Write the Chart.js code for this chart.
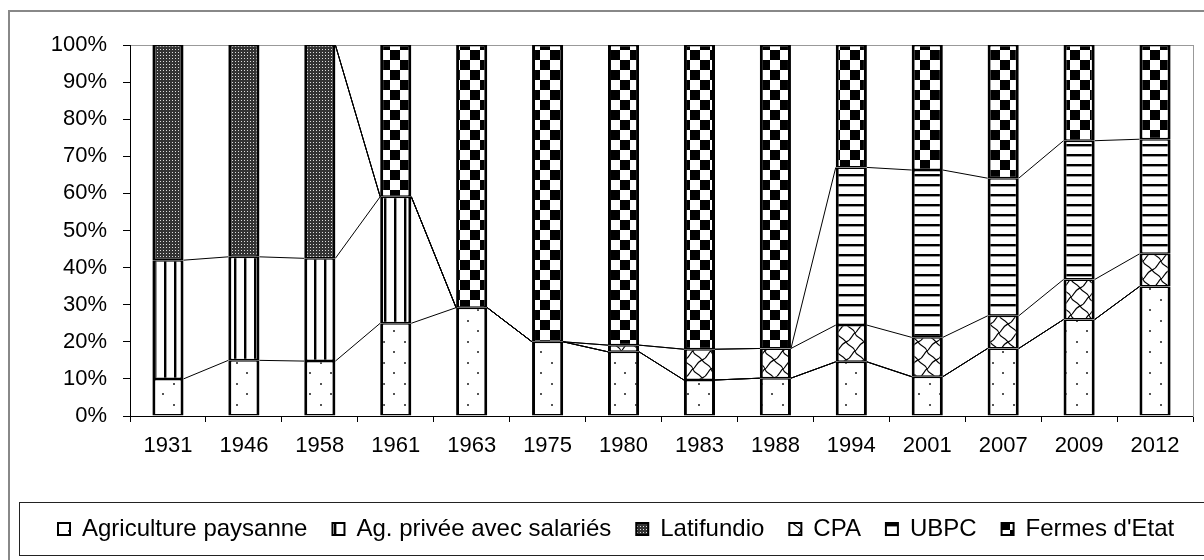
<!DOCTYPE html>
<html>
<head>
<meta charset="utf-8">
<script src="https://cdn.jsdelivr.net/npm/chart.js@4.4.1/dist/chart.umd.min.js"></script>
<style>
  html, body { margin: 0; padding: 0; background: #fff; }
  #wrap { width: 1204px; height: 560px; }
</style>
</head>
<body>
<div id="wrap"><canvas id="chart" width="1204" height="560"></canvas></div>
<script>
// data (percent of land, stacked bottom to top)
const years = ['1931', '1946', '1958', '1961', '1963', '1975', '1980', '1983', '1988', '1994', '2001', '2007', '2009', '2012'];
const paysanne   = [10, 15, 14.8, 25, 29.2, 20, 17.3, 9.7, 10.2, 14.6, 10.6, 18.2, 26, 34.9];
const privee     = [32, 27.9, 27.7, 34.1, 0, 0, 0, 0, 0, 0, 0, 0, 0, 0];
const latifundio = [58, 57.1, 57.5, 0, 0, 0, 0, 0, 0, 0, 0, 0, 0, 0];
const cpa        = [0, 0, 0, 0, 0, 0, 1.8, 8.3, 8, 9.9, 10.6, 8.8, 10.8, 8.8];
const ubpc       = [0, 0, 0, 0, 0, 0, 0, 0, 0, 42.5, 45.1, 37.1, 37.4, 30.9];
const fermes     = [0, 0, 0, 40.9, 70.8, 80, 80.9, 82, 81.8, 33, 33.7, 35.9, 25.8, 25.4];
const yTicks = [0, 10, 20, 30, 40, 50, 60, 70, 80, 90, 100];

const FONT = "'Liberation Sans', Arial, sans-serif";

// black & white fill patterns, like the old Excel ones
function makePattern(w, h, paint) {
  const c = document.createElement('canvas');
  c.width = w; c.height = h;
  const g = c.getContext('2d');
  g.fillStyle = '#fff';
  g.fillRect(0, 0, w, h);
  paint(g);
  return document.getElementById('chart').getContext('2d').createPattern(c, 'repeat');
}

const dotsFill = makePattern(21, 21, g => {
  g.fillStyle = '#555';
  g.fillRect(5, 5, 2, 2);
  g.fillRect(15, 15, 2, 2);
});
const vlinesFill = makePattern(10, 10, g => {
  g.fillStyle = '#000';
  g.fillRect(4, 0, 2, 10);
  g.fillStyle = '#999';
  g.fillRect(6, 0, 1, 10);
});
const darkFill = makePattern(3, 3, g => {
  g.fillStyle = '#333';
  g.fillRect(0, 0, 3, 3);
  g.fillStyle = '#ddd';
  g.fillRect(1, 1, 1, 1);
});
const waveFill = makePattern(18, 18, g => {
  g.strokeStyle = '#000';
  g.lineWidth = 1.2;
  g.beginPath();
  g.moveTo(0, 18); g.bezierCurveTo(6, 16, 6, 10, 9, 9); g.bezierCurveTo(12, 8, 12, 2, 18, 0);
  g.moveTo(0, 0); g.bezierCurveTo(4, 6, 8, 4, 9, 9); g.bezierCurveTo(10, 14, 14, 12, 18, 18);
  g.stroke();
});
const hlinesFill = makePattern(10, 10, g => {
  g.fillStyle = '#000';
  g.fillRect(0, 4, 10, 2);
  g.fillStyle = '#999';
  g.fillRect(0, 6, 10, 1);
});
const checkFill = makePattern(20, 20, g => {
  g.fillStyle = '#000';
  g.fillRect(0, 0, 10, 10);
  g.fillRect(10, 10, 10, 10);
});

function series(label, data, fill) {
  return {
    label, data,
    backgroundColor: fill,
    borderColor: '#000',
    // half width on top/bottom so touching segments share a 3px line
    borderWidth: { top: 1.5, bottom: 1.5, left: 3, right: 3 },
    borderSkipped: false,
    barPercentage: 0.41,
    categoryPercentage: 1
  };
}

// Excel style series lines between the stacked bars
const seriesLines = {
  id: 'seriesLines',
  afterDatasetsDraw(chart) {
    const ctx = chart.ctx;
    const top = chart.chartArea.top;
    ctx.save();
    ctx.strokeStyle = '#000';
    ctx.lineWidth = 1;
    const n = chart.data.datasets.length;
    for (let d = 0; d < n - 1; d++) {
      const bars = chart.getDatasetMeta(d).data;
      for (let i = 0; i < bars.length - 1; i++) {
        const a = bars[i], b = bars[i + 1];
        if (Math.abs(a.y - top) < 0.5 && Math.abs(b.y - top) < 0.5) continue;
        ctx.beginPath();
        ctx.moveTo(a.x + a.width / 2, a.y);
        ctx.lineTo(b.x - b.width / 2, b.y);
        ctx.stroke();
      }
    }
    ctx.restore();
  }
};

// white page, outer chart frame and the legend box
const frame = {
  id: 'frame',
  beforeDraw(chart) {
    const ctx = chart.ctx;
    ctx.save();
    ctx.fillStyle = '#fff';
    ctx.fillRect(0, 0, chart.width, chart.height);
    ctx.restore();
  },
  afterDraw(chart) {
    const ctx = chart.ctx;
    ctx.save();
    ctx.strokeStyle = '#888';
    ctx.lineWidth = 2;
    ctx.strokeRect(9, 11, 1400, 800);
    ctx.strokeStyle = '#222';
    ctx.lineWidth = 1;
    const lt = chart.legend.top + 10;
    ctx.strokeRect(19.5, Math.round(lt) + 0.5, 1400, 53);
    ctx.restore();
  }
};

new Chart(document.getElementById('chart'), {
  type: 'bar',
  data: {
    labels: years,
    datasets: [
      series('Agriculture paysanne', paysanne, dotsFill),
      series('Ag. privée avec salariés', privee, vlinesFill),
      series('Latifundio', latifundio, darkFill),
      series('CPA', cpa, waveFill),
      series('UBPC', ubpc, hlinesFill),
      series("Fermes d'Etat", fermes, checkFill)
    ]
  },
  options: {
    responsive: false,
    animation: false,
    devicePixelRatio: 1,
    layout: { padding: { left: 33, top: 0, right: 0, bottom: 9 } },
    plugins: {
      title: { display: false },
      tooltip: { enabled: false },
      legend: {
        position: 'bottom',
        align: 'start',
        labels: {
          color: '#000',
          font: { family: FONT, size: 24 },
          boxWidth: 12,
          boxHeight: 12,
          padding: 25,
          generateLabels(chart) {
            const items = Chart.defaults.plugins.legend.labels.generateLabels(chart);
            items.forEach(it => { it.lineWidth = 2; });
            return items;
          }
        }
      }
    },
    scales: {
      x: {
        stacked: true,
        offset: true,
        grid: { offset: true, drawOnChartArea: false, color: '#000', tickLength: 6 },
        border: { color: '#000', width: 1 },
        ticks: { color: '#000', font: { family: FONT, size: 22 }, padding: 11, maxRotation: 0 },
        afterFit(scale) { scale.height = 76; }
      },
      xTop: {
        position: 'top',
        type: 'category',
        grid: { drawOnChartArea: false, drawTicks: false },
        border: { color: '#999', width: 1 },
        ticks: { display: false },
        afterFit(scale) { scale.height = 45; }
      },
      y: {
        stacked: true,
        min: 0,
        max: 100,
        afterBuildTicks(scale) { scale.ticks = yTicks.map(v => ({ value: v })); },
        grid: { drawOnChartArea: false, color: '#000', tickLength: 7 },
        border: { color: '#000', width: 1 },
        ticks: {
          color: '#000',
          font: { family: FONT, size: 22 },
          padding: 16,
          callback: v => v + '%'
        },
        afterFit(scale) { scale.width = 97; }
      },
      yRight: {
        position: 'right',
        type: 'linear',
        grid: { drawOnChartArea: false, drawTicks: false },
        border: { color: '#999', width: 1 },
        ticks: { display: false },
        afterFit(scale) { scale.width = 11; }
      }
    }
  },
  plugins: [frame, seriesLines]
});
</script>
</body>
</html>
